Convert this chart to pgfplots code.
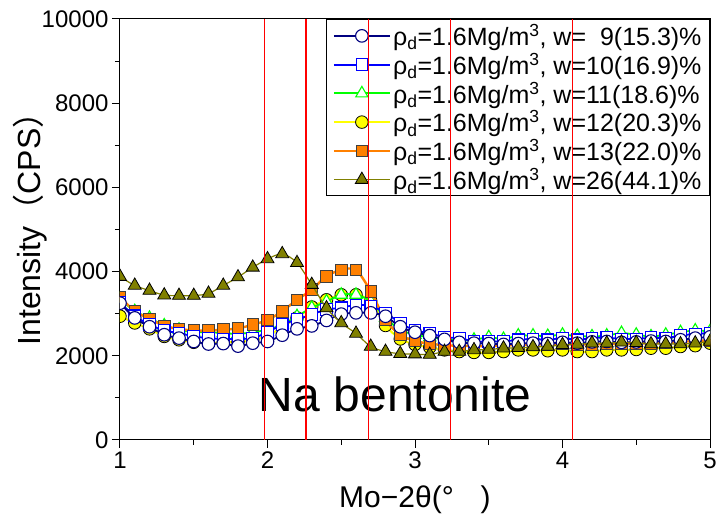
\documentclass[border=0pt]{standalone}
\usepackage{fontspec}
\setmainfont{Liberation Sans}
\newfontfamily\cjk{Noto Sans CJK JP}
\usepackage{pgfplots}
\usepackage{pgfplotstable}
\pgfplotsset{compat=1.18}
\definecolor{cNavy}{HTML}{000080}
\definecolor{cBlue}{HTML}{0000FF}
\definecolor{cGreen}{HTML}{00FF00}
\definecolor{cYellow}{HTML}{FFFF00}
\definecolor{cOrange}{HTML}{FF8000}
\definecolor{cOlive}{HTML}{808000}
\definecolor{cRed}{HTML}{FF0000}

% x = Mo-2theta, columns = water content series
\pgfplotstableread{
x   w9   w10  w11  w12  w13  w26
1.0 3250 3260 3350 2940 3400 3880
1.1 2900 2950 3060 2780 3060 3670
1.2 2690 2740 2900 2640 2880 3550
1.3 2500 2600 2720 2460 2710 3440
1.4 2420 2540 2620 2380 2640 3430
1.5 2340 2460 2560 2320 2600 3430
1.6 2280 2420 2560 2300 2600 3480
1.7 2290 2400 2540 2320 2620 3670
1.8 2230 2400 2520 2330 2650 3870
1.9 2300 2420 2560 2370 2740 4100
2.0 2340 2560 2620 2480 2850 4300
2.1 2490 2740 2740 2680 3060 4420
2.2 2640 2860 2940 2900 3330 4210
2.3 2710 2980 3140 3160 3570 3690
2.4 2840 3100 3290 3330 3890 3135
2.5 2990 3140 3450 3450 4040 2780
2.6 3020 3210 3450 3450 4040 2530
2.7 3020 3180 3290 3300 3530 2220
2.8 2940 3020 2900 2720 2850 2100
2.9 2690 2780 2620 2400 2500 2050
3.0 2560 2600 2500 2270 2350 2040
3.1 2480 2540 2440 2200 2290 2030
3.2 2390 2440 2400 2140 2250 2100
3.3 2320 2420 2360 2100 2240 2100
3.4 2300 2340 2380 2080 2230 2140
3.5 2290 2340 2440 2080 2230 2150
3.6 2270 2340 2400 2100 2240 2180
3.7 2290 2380 2480 2140 2260 2190
3.8 2300 2400 2480 2140 2270 2210
3.9 2290 2380 2470 2120 2270 2220
4.0 2320 2420 2500 2140 2280 2260
4.1 2300 2380 2470 2100 2270 2270
4.2 2330 2420 2460 2100 2270 2300
4.3 2340 2430 2480 2140 2280 2300
4.4 2320 2400 2540 2140 2290 2320
4.5 2330 2400 2500 2150 2290 2310
4.6 2350 2430 2460 2180 2300 2280
4.7 2340 2420 2500 2180 2310 2280
4.8 2380 2480 2560 2220 2330 2280
4.9 2420 2520 2600 2240 2350 2300
5.0 2450 2540 2580 2300 2370 2340
}\xrd

\pgfplotsset{
  frame/.style={width=590pt,height=421pt,scale only axis,
    xmin=1,xmax=5,ymin=0,ymax=10000},
  s9/.style={cNavy,line width=1.8pt,mark=*,mark size=6.3pt,
    mark options={fill=white,draw=cNavy,line width=1.1pt}},
  s10/.style={cBlue,line width=1.8pt,mark=square*,mark size=5.8pt,
    mark options={fill=white,draw=cBlue,line width=1.1pt}},
  s11/.style={cGreen,line width=1.8pt,mark=triangle*,mark size=7pt,
    mark options={fill=white,draw=cGreen,line width=1.1pt}},
  s12/.style={cYellow,line width=2pt,mark=*,mark size=6.3pt,
    mark options={fill=cYellow,draw=black,line width=0.8pt}},
  s13/.style={cOrange,line width=2.4pt,mark=square*,mark size=5.8pt,
    mark options={fill=cOrange,draw=black!75,line width=0.8pt}},
  s26/.style={cOlive,line width=1.2pt,mark=triangle*,mark size=7.5pt,
    mark options={fill=cOlive,draw=black,line width=0.8pt}},
  vline/.style={draw=cRed,line width=1.3pt,mark=none},
}

\begin{document}
\begin{tikzpicture}
\begin{axis}[
  frame,
  xtick={1,2,3,4,5},
  ytick={0,2000,4000,6000,8000,10000},
  minor x tick num=1, minor y tick num=1,
  xtick pos=left, ytick pos=left,
  tick align=outside,
  major tick length=8pt, minor tick length=5pt,
  axis line style={line width=1pt},
  every tick/.style={black,line width=1pt},
  tick label style={font=\fontsize{24}{28}\selectfont},
  /pgf/number format/assume math mode=true,
  /pgf/number format/1000 sep={},
  scaled y ticks=false,
  xlabel={Mo\textminus2θ(°\hspace{0.9em})},
  xlabel style={font=\fontsize{30}{34}\selectfont,
    at={(axis description cs:0.5,0)},anchor=base,yshift=-68pt},
  ylabel={Intensity{\cjk （}CPS{\cjk ）}},
  ylabel style={font=\fontsize{32}{36}\selectfont,
    at={(axis description cs:-0.152,0.52)},anchor=center},
  clip marker paths=true,
  legend style={at={(1,1)},anchor=north east,draw=black,line width=1pt,
    fill=white,font=\fontsize{25}{29}\selectfont,
    cells={anchor=west},row sep=2pt,inner xsep=6pt,inner ysep=3pt},
  legend image code/.code={%
    \draw[mark repeat=2,mark phase=2,#1]
      plot coordinates {(0pt,0pt) (28pt,0pt) (56pt,0pt)};},
]
\addplot[s12,smooth,forget plot] table[x=x,y=w12]{\xrd};
\addplot[s11,smooth,forget plot] table[x=x,y=w11]{\xrd};
\addplot[s13,smooth,forget plot] table[x=x,y=w13]{\xrd};
\addplot[s10,smooth,forget plot] table[x=x,y=w10]{\xrd};
\addplot[s9,smooth,forget plot] table[x=x,y=w9]{\xrd};
\addplot[s26,smooth,forget plot] table[x=x,y=w26]{\xrd};

\addlegendimage{s9}
\addlegendimage{s10}
\addlegendimage{s11}
\addlegendimage{s12}
\addlegendimage{s13}
\addlegendimage{s26}
\legend{
  {ρ\textsubscript{d}=1.6Mg/m\textsuperscript{3}, w=\phantom{1}9(15.3)\%},
  {ρ\textsubscript{d}=1.6Mg/m\textsuperscript{3}, w=10(16.9)\%},
  {ρ\textsubscript{d}=1.6Mg/m\textsuperscript{3}, w=11(18.6)\%},
  {ρ\textsubscript{d}=1.6Mg/m\textsuperscript{3}, w=12(20.3)\%},
  {ρ\textsubscript{d}=1.6Mg/m\textsuperscript{3}, w=13(22.0)\%},
  {ρ\textsubscript{d}=1.6Mg/m\textsuperscript{3}, w=26(44.1)\%}}

\node[font=\fontsize{48}{56}\selectfont,anchor=base] at (axis cs:2.865,667) {Na bentonite};
\coordinate (sw) at (rel axis cs:0,0);
\coordinate (ne) at (rel axis cs:1,1);
\end{axis}

% reference lines drawn on top of data and legend
\begin{axis}[frame,hide axis]
\addplot[vline] coordinates {(1.98,0) (1.98,10000)};
\addplot[vline] coordinates {(2.26,0) (2.26,10000)};
\addplot[vline] coordinates {(2.685,0) (2.685,10000)};
\addplot[vline] coordinates {(3.24,0) (3.24,10000)};
\addplot[vline] coordinates {(4.07,0) (4.07,10000)};
\end{axis}

\pgfresetboundingbox
\useasboundingbox ([xshift=-120pt,yshift=-81pt]sw) rectangle ([xshift=7pt,yshift=19pt]ne);
\end{tikzpicture}
\end{document}
